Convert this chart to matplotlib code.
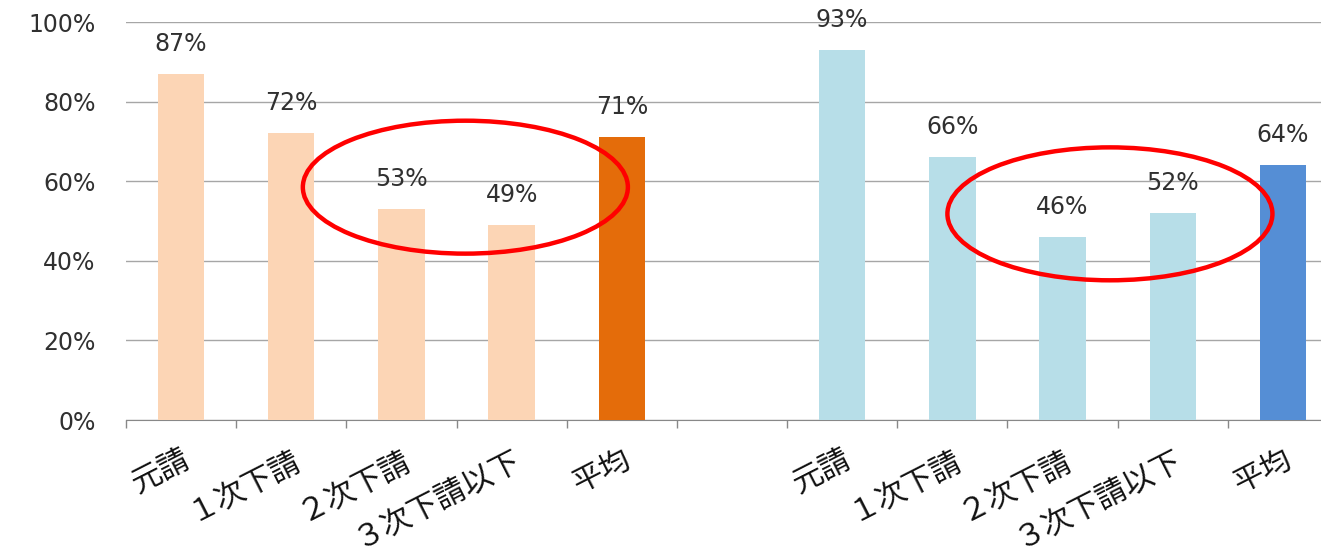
import matplotlib
matplotlib.use("Agg")
import matplotlib.pyplot as plt
from matplotlib.patches import Ellipse
import numpy as np

plt.rcParams['font.family'] = ['Noto Sans CJK JP', 'DejaVu Sans']

categories = ["元請", "１次下請", "２次下請", "３次下請以下", "平均"]
left_values = [87, 72, 53, 49, 71]
right_values = [93, 66, 46, 52, 64]
yticks = [0, 20, 40, 60, 80, 100]

left_colors = ["#FCD5B5"] * 4 + ["#E46C0A"]
right_colors = ["#B7DEE8"] * 4 + ["#558ED5"]

# slots 0-4 left group, slot 5 empty, 6-10 right group
x_left = np.arange(5)
x_right = np.arange(5) + 6

num_font = dict(family="DejaVu Sans", fontsize=17, color="#303030")

fig = plt.figure(figsize=(13.21, 5.55), dpi=100)
ax = fig.add_axes([126 / 1321, 135 / 555, 1212 / 1321, 398 / 555])

bw = 0.42
ax.bar(x_left, left_values, width=bw, color=left_colors, zorder=3)
ax.bar(x_right, right_values, width=bw, color=right_colors, zorder=3)

for xs, vals in [(x_left, left_values), (x_right, right_values)]:
    for x, v in zip(xs, vals):
        ax.annotate(f"{v}%", (x, v), xytext=(0, 13), textcoords="offset points",
                    ha="center", va="bottom", **num_font)

ax.set_xlim(-0.5, 10.5)
ax.set_ylim(0, 100)
ax.set_yticks(yticks)
ax.set_yticklabels([f"{t}%" for t in yticks])
for lab in ax.get_yticklabels():
    lab.set_fontfamily("DejaVu Sans")
    lab.set_fontsize(17)
    lab.set_color("#303030")
ax.set_xticks(np.arange(-0.5, 11, 1))
ax.set_xticklabels([])
ax.tick_params(axis="x", direction="out", length=6, color="#888888", width=1)
ax.tick_params(axis="y", length=0, pad=22)

for s in ["left", "right", "top"]:
    ax.spines[s].set_visible(False)
ax.spines["bottom"].set_color("#888888")
ax.yaxis.grid(True, color="#A6A6A6", linewidth=1, zorder=0)
ax.set_axisbelow(True)

for xs in (x_left, x_right):
    for x, lab in zip(xs, categories):
        ax.annotate(lab, (x, 0), xytext=(0, -17), textcoords="offset points",
                    rotation=27, rotation_mode="anchor", ha="right", va="top",
                    fontsize=22, color="#111111", annotation_clip=False)

# red highlight ellipses
for cx, cy in [(2.58, 58.5), (8.43, 51.8)]:
    ax.add_patch(Ellipse((cx, cy), 2.95, 33.4, fill=False, edgecolor="#FF0000",
                         linewidth=3.2, zorder=4, clip_on=False))

fig.savefig("out.png", dpi=100)
